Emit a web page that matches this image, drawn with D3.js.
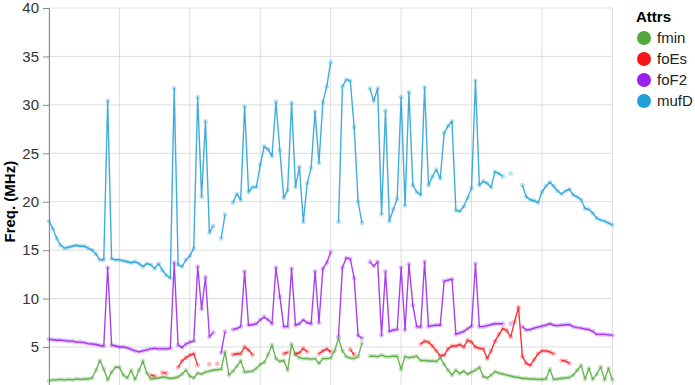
<!DOCTYPE html>
<html>
<head>
<meta charset="utf-8">
<script src="https://cdn.jsdelivr.net/npm/d3@7"></script>
<style>
  html, body { margin: 0; padding: 0; background: #fff; overflow: hidden; }
  svg { display: block; font-family: "Liberation Sans", Arial, sans-serif; }
</style>
</head>
<body>
<svg id="chart" width="695" height="385"></svg>
<script>
// ── Data (10-minute samples over one day, null = missing) ─────────────────────

const attrs = ["fmin", "foEs", "foF2", "mufD"];
const colors = ["#52a83a", "#f5141a", "#9b20ec", "#1f9fd6"];
const yTicks = [5, 10, 15, 20, 25, 30, 35, 40];   // 0 falls below the window

const fmin = [
  1.5, 1.6, 1.6, 1.65, 1.6, 1.65, 1.6, 1.7, 1.65, 1.7,
  1.7, 1.8, 2.6, 3.6, 2.7, 1.6, 2.4, 2.9, 2.9, 2.1,
  1.8, 2.6, 1.65, 2.6, 3.55, 2.3, 1.7, 1.75, 1.8, 1.9,
  1.85, 1.75, 1.8, 1.9, 2.2, 2.6, 2.0, 1.8, 2.3, 2.2,
  2.4, 2.5, 2.6, 2.65, 2.7, 4.5, 2.1, 2.5, 3.0, 3.6,
  2.4, 2.45, 2.5, 2.8, 3.2, 3.4, 4.2, 5.2, 3.8, 3.5,
  3.6, 2.6, 5.3, 4.2, 3.9, 3.8, 3.8, 3.75, 3.8, 3.3,
  3.8, 3.8, 3.85, 4.6, 5.9, 4.6, 4.0, 3.85, 3.8, 4.0,
  5.4, null, 4.05, 4.05, 4.0, 4.15, 4.0, 4.0, 4.05, 4.05,
  2.7, 4.0, 3.9, 3.95, 4.05, 3.6, 3.6, 3.55, 3.55, 3.5,
  3.9, 3.2, 2.6, 2.1, 2.6, 2.25, 2.5, 2.2, 2.4, 2.6,
  2.9, 1.95, 1.8, 2.1, 2.45, 2.3, 2.2, 2.1, 2.0, 1.9,
  1.85, 1.75, 1.75, 1.7, 1.7, 1.65, 1.65, 1.7, 2.7, 1.65,
  1.7, 1.75, 1.8, 1.85, 2.1, 2.6, 3.1, 1.7, 2.8, 1.65,
  2.2, 2.95, 1.6, 2.8, 1.6
];

const foEs = [
  null, null, null, null, null, null, null, null, null, null,
  null, null, null, null, null, null, null, null, null, null,
  null, null, null, null, null, null, 2.1, 2.0, null, 2.35,
  2.3, null, null, 2.9, 3.55, 3.9, 4.15, 4.3, 3.1, null,
  null, 3.2, null, 3.25, null, null, null, 4.2, 4.3, 4.3,
  5.0, 4.7, 4.2, null, null, null, null, null, null, null,
  4.3, 4.45, null, 4.3, 4.4, 4.85, 4.5, null, null, 4.3,
  4.6, 4.8, 4.5, null, null, null, null, 4.75, 4.2, null,
  null, null, null, null, null, null, null, null, null, null,
  null, null, null, null, null, 5.3, 5.6, 5.5, 5.1, 4.6,
  4.1, 4.15, 4.8, 5.1, 5.1, 5.25, 5.0, 5.7, 5.5, 5.0,
  4.85, 4.8, 3.8, 4.6, 5.6, 6.3, 6.9, 6.7, 6.05, 7.6,
  9.1, 4.0, 3.3, 3.1, 3.7, 4.3, 4.6, 4.6, 4.5, 4.3,
  null, 3.6, 3.55, 3.3, null, null, null, null, null, null,
  null, null, null, null, null
];

const foF2 = [
  5.8, 5.75, 5.7, 5.7, 5.65, 5.6, 5.6, 5.5, 5.5, 5.45,
  5.35, 5.3, 5.25, 5.15, 5.1, 13.2, 5.2, 5.1, 5.0, 5.0,
  4.9, 4.75, 4.6, 4.5, 4.6, 4.7, 4.8, 4.85, 4.8, 4.8,
  4.8, 4.85, 13.7, 5.2, 4.95, 5.3, 5.5, 5.6, 13.3, 8.9,
  12.2, 6.05, 6.5, null, 4.4, 6.6, null, 6.8, 6.9, 7.1,
  12.8, 7.25, 7.3, 7.4, 7.8, 8.1, 7.8, 7.4, 13.2, 10.2,
  7.1, 7.1, 13.1, 7.25, 7.4, 7.8, 7.5, 7.4, 12.8, 7.5,
  13.1, 13.7, 14.8, null, 6.1, 13.2, 14.2, 14.1, 12.1, 6.2,
  5.9, null, 13.8, 13.35, 13.8, 6.2, 12.8, 6.6, 6.75, 6.8,
  13.2, 6.75, 13.55, 9.3, 7.1, 7.05, 13.8, 7.1, 7.2, 7.25,
  7.25, 11.8, 11.9, 12.0, 6.3, 6.45, 6.6, 6.9, 7.15, 13.6,
  7.1, 7.1, 7.2, 7.3, 7.4, 7.4, 7.4, null, 7.4, null,
  null, 7.1, 6.75, 6.8, 6.95, 7.05, 7.15, 7.25, 7.4, 7.25,
  7.2, 7.25, 7.3, 7.3, 7.1, 7.0, 6.95, 6.85, 6.8, 6.6,
  6.3, 6.3, 6.3, 6.25, 6.2
];

const mufD = [
  18.0, 17.2, 16.2, 15.5, 15.2, 15.3, 15.4, 15.5, 15.4, 15.4,
  15.2, 15.0, 14.6, 14.0, 14.0, 30.4, 14.1, 14.0, 14.0, 13.9,
  13.8, 13.7, 13.8, 13.6, 13.3, 13.6, 13.5, 13.1, 13.6, 12.9,
  12.4, 12.1, 31.7, 13.5, 13.3, 14.0, 14.4, 15.2, 30.8, 20.5,
  28.3, 16.8, 17.5, null, 16.2, 18.7, null, 19.9, 20.8, 20.2,
  29.8, 21.0, 21.5, 21.5, 23.8, 25.7, 25.4, 24.7, 30.3, 25.3,
  20.4, 21.2, 30.2, 21.5, 23.6, 17.9, 21.9, 23.5, 29.3, 24.0,
  30.3, 31.9, 34.4, null, 17.9, 31.9, 32.6, 32.5, 27.7, 20.0,
  17.8, null, 31.7, 30.4, 31.7, 18.7, 29.4, 18.0, 19.2, 20.3,
  30.8, 19.6, 31.3, 21.7, 21.0, 20.7, 31.8, 21.7, 22.6, 23.3,
  22.4, 27.1, 27.8, 28.3, 19.1, 19.0, 19.5, 20.4, 21.4, 32.5,
  21.7, 22.1, 21.9, 21.5, 23.1, 22.9, 22.6, null, 22.9, null,
  null, 21.7, 20.5, 20.2, 20.1, 19.9, 21.0, 21.6, 22.0, 21.6,
  21.1, 20.8, 21.1, 21.3, 20.7, 20.5, 20.2, 19.3, 19.2, 18.8,
  18.3, 18.1, 18.0, 17.8, 17.6
];

const seriesValues = [fmin, foEs, foF2, mufD];

// ── Layout ────────────────────────────────────────────────────────────────────

const M = { top: 8, left: 49 };
const W = 563.4, H = 387.4;   // plot runs past the bottom edge of the window

const t0 = new Date(2024, 0, 1, 0, 0);
const times = d3.range(fmin.length).map(i => d3.timeMinute.offset(t0, i * 10));

const x = d3.scaleTime()
  .domain([t0, d3.timeHour.offset(t0, 24)])
  .range([0, W]);
const y = d3.scaleLinear().domain([0, 40]).range([H, 0]);
const color = d3.scaleOrdinal().domain(attrs).range(colors);

const svg = d3.select("#chart");
const g = svg.append("g").attr("transform", `translate(${M.left},${M.top})`);

// Grid
g.append("g")
  .selectAll("line")
  .data(x.ticks(d3.timeHour.every(3)))
  .join("line")
  .attr("x1", d => x(d)).attr("x2", d => x(d))
  .attr("y1", 0).attr("y2", H)
  .attr("stroke", "#ddd").attr("stroke-width", 1);

g.append("g")
  .selectAll("line")
  .data(yTicks)
  .join("line")
  .attr("x1", 0).attr("x2", W)
  .attr("y1", d => y(d)).attr("y2", d => y(d))
  .attr("stroke", "#ddd").attr("stroke-width", 1);

// Y axis (the x axis sits below the visible window)
const yAxis = g.append("g")
  .call(d3.axisLeft(y).tickValues(yTicks).tickSize(6).tickPadding(4));
yAxis.select(".domain").attr("stroke", "#888");
yAxis.selectAll(".tick line").attr("stroke", "#888");
yAxis.selectAll(".tick text")
  .attr("fill", "#333")
  .style("font-size", "15px")
  .style("font-family", "'Liberation Sans', Arial, sans-serif");

svg.append("text")
  .attr("transform", `translate(15,${M.top + H / 2}) rotate(-90)`)
  .attr("text-anchor", "middle")
  .attr("font-size", 15)
  .attr("font-weight", "bold")
  .attr("fill", "#000")
  .text("Freq. (MHz)");

// Lines + points
const line = d3.line()
  .defined(d => d.v != null)
  .x(d => x(d.t))
  .y(d => y(d.v));

attrs.forEach((name, k) => {
  const pts = times.map((t, i) => ({ t, v: seriesValues[k][i] }));
  const c = color(name);

  g.append("path")
    .datum(pts)
    .attr("fill", "none")
    .attr("stroke", c)
    .attr("stroke-width", 1.4)
    .attr("stroke-opacity", 0.85)
    .attr("stroke-linejoin", "round")
    .attr("d", line);

  g.append("g")
    .selectAll("circle")
    .data(pts.filter(d => d.v != null))
    .join("circle")
    .attr("cx", d => x(d.t))
    .attr("cy", d => y(d.v))
    .attr("r", 2.4)
    .attr("fill", c)
    .attr("opacity", 0.3);
});

// Legend
const legend = svg.append("g").attr("transform", "translate(636,0)");
legend.append("text")
  .attr("x", 0).attr("y", 22)
  .attr("font-size", 15)
  .attr("font-weight", "bold")
  .attr("fill", "#000")
  .text("Attrs");

const items = legend.selectAll("g")
  .data(attrs)
  .join("g")
  .attr("transform", (d, i) => `translate(0,${38 + i * 21})`);

items.append("circle")
  .attr("cx", 8).attr("cy", 0).attr("r", 7)
  .attr("fill", d => color(d));

items.append("text")
  .attr("x", 21).attr("y", 0)
  .attr("dy", "0.35em")
  .attr("font-size", 15)
  .attr("fill", "#222")
  .text(d => d);
</script>
</body>
</html>
